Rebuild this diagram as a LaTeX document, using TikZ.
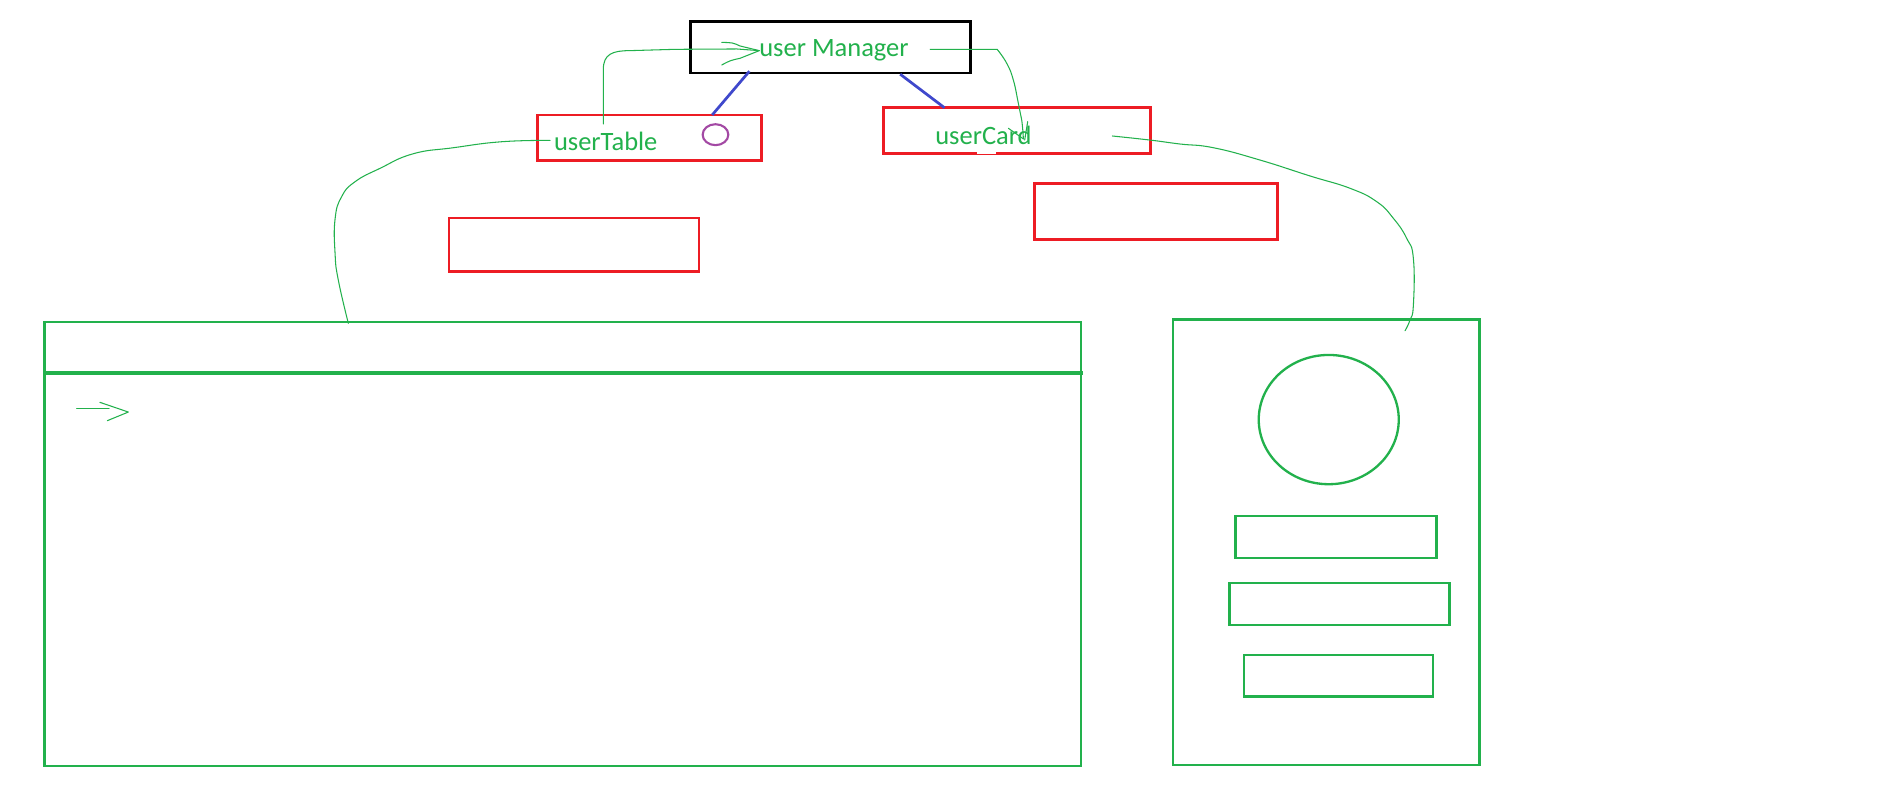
\documentclass[tikz,border=0pt]{standalone}
\usepackage{fontspec}
\setmainfont{Carlito}
\usetikzlibrary{shapes.geometric}
\definecolor{pgreen}{HTML}{22B14C}
\definecolor{pred}{HTML}{ED1C24}
\definecolor{pblue}{HTML}{3F48CC}
\definecolor{ppurple}{HTML}{A349A4}
\tikzset{
  box/.style={rectangle, inner sep=0pt, outer sep=0pt},
  blackbox/.style={box, draw=black, line width=1.3pt},
  redbox/.style={box, draw=pred, line width=1.3pt},
  greenbox/.style={box, draw=pgreen, line width=1.2pt},
  lbl/.style={inner sep=0pt, outer sep=0pt, anchor=base west, text=pgreen, font=\fontsize{12.6pt}{14pt}\selectfont},
  pen/.style={draw=pgreen, line width=0.5pt, line join=round, line cap=round},
  blueline/.style={draw=pblue, line width=1.3pt},
}
\begin{document}
\begin{tikzpicture}[x=0.02cm,y=-0.02cm]
\useasboundingbox[fill=white] (0,0) rectangle (1568,675.8);

% top boxes
\node[blackbox, minimum width=4.68cm, minimum height=0.86cm] (um) at (694,39.5) {};
\node[redbox, minimum width=3.74cm, minimum height=0.76cm] (ut) at (542.5,115) {};
\node[redbox, minimum width=4.46cm, minimum height=0.76cm] (uc) at (849.5,109) {};
\node[redbox, minimum width=4.18cm, minimum height=0.90cm] (r1) at (479.5,204.5) {};
\node[redbox, minimum width=4.06cm, minimum height=0.94cm] (r2) at (965.5,176.5) {};
% small gap in the userCard bottom border
\draw[white, line width=2pt] (816,127.3) -- (832,127.3);

% labels
\node[lbl] (tum) at (634.3,47) {user Manager};
\node[lbl] (tut) at (462.8,125.9) {userTable};
\node[lbl] (tuc) at (781.3,120.6) {userCard};

% purple circle
\node[ellipse, draw=ppurple, line width=1pt, inner sep=0pt, minimum width=0.43cm, minimum height=0.35cm] (dot) at (597.7,112.5) {};

% blue links
\draw[blueline] ([xshift=0.98cm,yshift=0.03cm]um.south west) -- ([xshift=2.92cm]ut.north west);
\draw[blueline] ([xshift=3.5cm,yshift=-0.02cm]um.south west) -- ([xshift=1.02cm]uc.north west);

% bottom boxes
\node[greenbox, minimum width=17.32cm, minimum height=7.42cm] (big) at (470,454.5) {};
\draw[draw=pgreen, line width=2pt] ([yshift=-0.85cm]big.north west) -- ++(868,0);
\node[greenbox, minimum width=5.12cm, minimum height=7.44cm] (card) at (1108,453) {};
\node[ellipse, draw=pgreen, line width=1.1pt, inner sep=0pt, minimum width=2.34cm, minimum height=2.16cm] (face) at (1110,350.5) {};
\node[greenbox, minimum width=3.36cm, minimum height=0.70cm] (f1) at (1116,448.5) {};
\node[greenbox, minimum width=3.68cm, minimum height=0.70cm] (f2) at (1119,504.5) {};
\node[greenbox, minimum width=3.16cm, minimum height=0.70cm] (f3) at (1118,564.5) {};

% hand-drawn green connectors
\coordinate (c1a) at (504,103.6);
\coordinate (c1b) at (634.3,42.3);
\draw[pen] (c1a) -- (504,58) .. controls (504,45) and (512,42.3) .. (526,42.3) -- (564,41.2) -- (615.4,40.9) -- (c1b);
\draw[pen] (602.9,35.4) .. controls (612,35.6) .. (618.2,38.4) -- (c1b) -- (618.2,48.7) .. controls (610,50.5) .. (602.9,54.3);

\coordinate (c2a) at (777,41.2);
\coordinate (c2b) at (854.9,116);
\draw[pen] (c2a) -- (833,41.2) plot[smooth, tension=0.8] coordinates {(833,41.2) (841,52.9) (846.5,66.8) (850.7,86.3) (853.5,100.2) (c2b)};
\draw[pen] (842.4,107.2) -- (c2b);
\draw[pen] (858.5,101.6) -- (856,117);

\coordinate (c3a) at (459.5,117.3);
\coordinate (c3b) at (291,270.1);
\draw[pen] plot[smooth, tension=0.8] coordinates {(c3a) (419.1,118.4) (378.7,123.4) (345,128.5) (317.5,140.6) (296.6,151.8) (285.4,164.3) (279.9,183) (279.9,211.6) (282.6,233.9) (c3b)};

\coordinate (c4a) at (929.2,113.6);
\coordinate (c4b) at (1173.7,276.3);
\draw[pen] plot[smooth, tension=0.8] coordinates {(c4a) (960.7,117) (985.8,120.3) (1013.6,123.4) (1052.6,133.7) (1094.4,147) (1127.8,157.3) (1150.1,168.5) (1164,182.4) (1175.1,199.1) (1180.7,216) (1180.7,254.8) (1177.9,267.3) (c4b)};

% small arrow inside the table
\coordinate (a5) at (107.2,344.2);
\draw[pen] (64,341.4) -- (91.1,341.4);
\draw[pen] (83.5,336.1) -- (a5) -- (89.7,351.4);
\end{tikzpicture}
\end{document}
